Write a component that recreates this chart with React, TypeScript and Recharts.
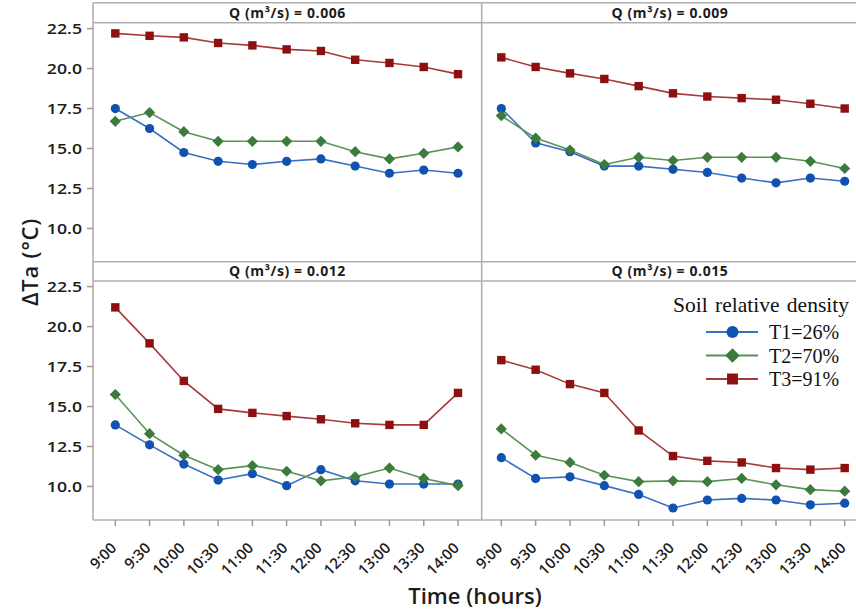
import { Line, LineChart, XAxis, YAxis } from 'recharts'

const times = ['9:00', '9:30', '10:00', '10:30', '11:00', '11:30', '12:00', '12:30', '13:00', '13:30', '14:00']
const flowRates = ['0.006', '0.009', '0.012', '0.015']
const seriesNames = ['T1=26%', 'T2=70%', 'T3=91%']
const yTicks = [10, 12.5, 15, 17.5, 20, 22.5]

// Q = 0.006
const t1Q006 = [17.5, 16.25, 14.75, 14.2, 14.0, 14.2, 14.35, 13.9, 13.45, 13.65, 13.45]
const t2Q006 = [16.7, 17.25, 16.05, 15.45, 15.45, 15.45, 15.45, 14.8, 14.35, 14.7, 15.1]
const t3Q006 = [22.2, 22.05, 21.95, 21.6, 21.45, 21.2, 21.1, 20.55, 20.35, 20.1, 19.65]
// Q = 0.009
const t1Q009 = [17.5, 15.35, 14.8, 13.9, 13.9, 13.7, 13.5, 13.15, 12.85, 13.15, 12.95]
const t2Q009 = [17.05, 15.65, 14.9, 14.0, 14.45, 14.25, 14.45, 14.45, 14.45, 14.2, 13.75]
const t3Q009 = [20.7, 20.1, 19.7, 19.35, 18.9, 18.45, 18.25, 18.15, 18.05, 17.8, 17.5]
// Q = 0.012
const t1Q012 = [13.85, 12.6, 11.4, 10.4, 10.8, 10.05, 11.05, 10.35, 10.15, 10.15, 10.15]
const t2Q012 = [15.75, 13.3, 11.95, 11.05, 11.3, 10.95, 10.35, 10.6, 11.15, 10.5, 10.05]
const t3Q012 = [21.2, 18.95, 16.6, 14.85, 14.6, 14.4, 14.2, 13.95, 13.85, 13.85, 15.85]
// Q = 0.015
const t1Q015 = [11.8, 10.5, 10.6, 10.05, 9.5, 8.65, 9.15, 9.25, 9.15, 8.85, 8.95]
const t2Q015 = [13.6, 11.95, 11.5, 10.7, 10.3, 10.35, 10.3, 10.5, 10.1, 9.8, 9.7]
const t3Q015 = [17.9, 17.3, 16.4, 15.85, 13.5, 11.9, 11.6, 11.5, 11.15, 11.05, 11.15]

const panelSeries = [
  [t1Q006, t2Q006, t3Q006],
  [t1Q009, t2Q009, t3Q009],
  [t1Q012, t2Q012, t3Q012],
  [t1Q015, t2Q015, t3Q015]
]

const markColors = ['#0f52b0', '#3d7b3d', '#8e0f0f']
const lineColors = ['#3a6fc2', '#5b9256', '#a53a3a']
const shapes = ['circle', 'diamond', 'square']

const FONT = '"Open Sans", "Noto Sans", sans-serif'
const TEXT = '#1c1c1c'
const FRAME = '#b0b0b0'

function Marker({ shape, cx, cy, color, scale = 1 }: { shape: string; cx: number; cy: number; color: string; scale?: number }) {
  if (shape === 'circle') return <circle cx={cx} cy={cy} r={4.6 * scale} fill={color} />
  if (shape === 'diamond') {
    const h = 5.6 * scale
    return <path d={`M${cx},${cy - h}L${cx + h},${cy}L${cx},${cy + h}L${cx - h},${cy}Z`} fill={color} />
  }
  const s = 8.4 * scale
  return <rect x={cx - s / 2} y={cy - s / 2} width={s} height={s} fill={color} />
}

const dotFor = (i: number) => (props: any) => {
  const { cx, cy, index } = props
  return <Marker key={`d${i}-${index}`} shape={shapes[i]} cx={cx} cy={cy} color={markColors[i]} />
}

function XTick({ x, y, payload }: any) {
  return (
    <g transform={`translate(${x + 2},${y + 21}) rotate(-45)`}>
      <text textAnchor="end" fontFamily={FONT} fontSize={15} fontWeight={600} fill={TEXT}>
        {payload.value}
      </text>
    </g>
  )
}

function YTick({ x, y, payload }: any) {
  return (
    <g transform={`translate(${x},${y}) scale(1.18,1)`}>
      <text textAnchor="end" dy="0.36em" fontFamily={FONT} fontSize={15} fontWeight={600} fill={TEXT}>
        {Number(payload.value).toFixed(1)}
      </text>
    </g>
  )
}

// the right column starts 40px early so its rotated 9:00 label is not clipped;
// each chart starts 10px above its plot so the top tick label has room
const COL_X = [0, 442]
const COL_W = [482, 414]
const COL_LM = [0, 40]
const TOP_M = 10
const ROW_Y = [23 - TOP_M, 281 - TOP_M]
const PLOT_H = 239
const X_PAD = [
  { left: 22.3, right: 24 },
  { left: 19.3, right: 11.3 }
]

function Panel({ idx }: { idx: number }) {
  const col = idx % 2
  const row = Math.floor(idx / 2)
  const data = times.map((time, k) => ({
    time,
    t1: panelSeries[idx][0][k],
    t2: panelSeries[idx][1][k],
    t3: panelSeries[idx][2][k]
  }))
  const bottom = row === 1
  const left = col === 0
  const height = TOP_M + PLOT_H + (bottom ? 80 : 0)
  return (
    <div style={{ position: 'absolute', left: COL_X[col], top: ROW_Y[row] }}>
      <LineChart width={COL_W[col]} height={height} data={data} margin={{ top: TOP_M, right: 0, bottom: 0, left: COL_LM[col] }}>
        <XAxis
          dataKey="time"
          hide={!bottom}
          height={80}
          padding={X_PAD[col]}
          axisLine={false}
          tickLine={{ stroke: '#9a9a9a', strokeWidth: 1.5 }}
          tickSize={6}
          tick={<XTick />}
          interval={0}
        />
        <YAxis
          hide={!left}
          width={93}
          type="number"
          domain={[7.9, 22.85]}
          ticks={yTicks}
          allowDataOverflow
          axisLine={false}
          tickLine={{ stroke: '#9a9a9a', strokeWidth: 1.5 }}
          tickSize={6}
          tickMargin={5}
          tick={<YTick />}
        />
        {[0, 1, 2].map((i) => (
          <Line
            key={i}
            dataKey={`t${i + 1}`}
            name={seriesNames[i]}
            stroke={lineColors[i]}
            strokeWidth={1.6}
            dot={dotFor(i)}
            activeDot={false}
            isAnimationActive={false}
          />
        ))}
      </LineChart>
    </div>
  )
}

function Frame() {
  const hLines = [2.7, 22.7, 261.7, 281, 520]
  const vLines = [93, 481.7]
  return (
    <svg width={856} height={613} style={{ position: 'absolute', left: 0, top: 0 }}>
      {hLines.map((y) => (
        <line key={`h${y}`} x1={93} x2={860} y1={y} y2={y} stroke={FRAME} strokeWidth={1.6} />
      ))}
      {vLines.map((x) => (
        <line key={`v${x}`} x1={x} x2={x} y1={2.7} y2={520} stroke={FRAME} strokeWidth={1.6} />
      ))}
      {flowRates.map((q, i) => {
        const cx = i % 2 === 0 ? 287.5 : 670
        const cy = i < 2 ? 17.5 : 276
        return (
          <text key={q} x={cx} y={cy} textAnchor="middle" fontFamily={FONT} fontSize={14} fontWeight={700} fill={TEXT} letterSpacing={0.6}>
            {`Q (m³/s) = ${q}`}
          </text>
        )
      })}
      <text
        transform="translate(38,262) rotate(-90)"
        textAnchor="middle"
        fontFamily={FONT}
        fontSize={22}
        fontWeight={600}
        fill={TEXT}
        letterSpacing={0.8}
      >
        ΔTa (°C)
      </text>
      <text x={475} y={604} textAnchor="middle" fontFamily={FONT} fontSize={22} fontWeight={600} fill={TEXT}>
        Time (hours)
      </text>
    </svg>
  )
}

function SoilLegend() {
  const serif = '"Liberation Serif", "Times New Roman", serif'
  return (
    <svg width={196} height={110} style={{ position: 'absolute', left: 660, top: 285 }}>
      <text x={13} y={27} fontFamily={serif} fontSize={21.5} fill="#111" wordSpacing={2}>
        Soil relative density
      </text>
      {seriesNames.map((name, i) => {
        const y = 47 + i * 23.5
        return (
          <g key={name}>
            <line x1={46} x2={98} y1={y} y2={y} stroke={lineColors[i]} strokeWidth={1.8} />
            <Marker shape={shapes[i]} cx={72.5} cy={y} color={markColors[i]} scale={1.3} />
            <text x={109} y={y + 7} fontFamily={serif} fontSize={20} fill="#111">
              {name}
            </text>
          </g>
        )
      })}
    </svg>
  )
}

export default function App() {
  return (
    <div style={{ position: 'absolute', left: 0, top: 0, width: 856, height: 613, background: '#fff', overflow: 'hidden' }}>
      <Frame />
      {[0, 1, 2, 3].map((i) => (
        <Panel key={i} idx={i} />
      ))}
      <SoilLegend />
    </div>
  )
}
